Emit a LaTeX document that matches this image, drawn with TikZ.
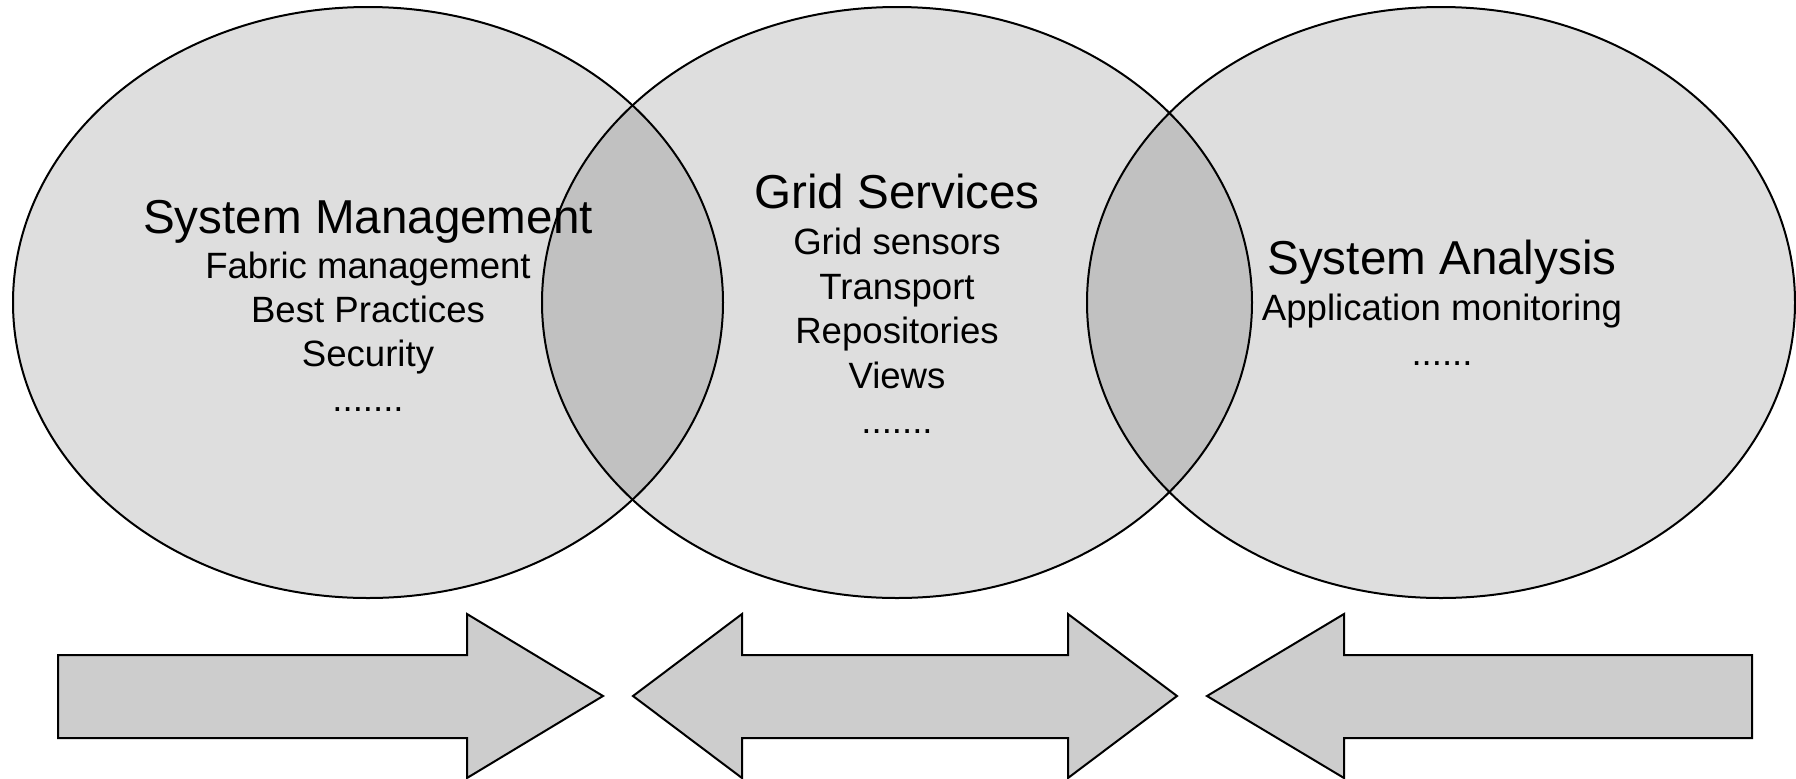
\documentclass[tikz,border=0pt]{standalone}
\usepackage{fontspec}
\setmainfont{Liberation Sans}
\usepackage{tikz}

\begin{document}
\begin{tikzpicture}[x=0.5pt,y=0.5pt,yscale=-1,xscale=1]
	\useasboundingbox (0,0) rectangle (1796,778);
	
	%Shape: Ellipse [id:system_management]
	\draw [line width=1pt, fill={rgb, 255:red, 0; green, 0; blue, 0 }, fill opacity=0.13 ] (368,302.5) ellipse [x radius=355, y radius=295.5];
	%Shape: Ellipse [id:grid_services]
	\draw [line width=1pt, fill={rgb, 255:red, 0; green, 0; blue, 0 }, fill opacity=0.13 ] (897,302.5) ellipse [x radius=355, y radius=295.5];
	%Shape: Ellipse [id:system_analysis]
	\draw [line width=1pt, fill={rgb, 255:red, 0; green, 0; blue, 0 }, fill opacity=0.13 ] (1441,302.5) ellipse [x radius=354, y radius=295.5];
	
	%Shape: Right Arrow [id:arrow_right]
	\draw [line width=1pt, fill={rgb, 255:red, 205; green, 205; blue, 205 } ] (58,655) -- (467,655) -- (467,614) -- (603,696) -- (467,778) -- (467,738) -- (58,738) -- cycle ;
	%Shape: Left-Right Arrow [id:arrow_both]
	\draw [line width=1pt, fill={rgb, 255:red, 205; green, 205; blue, 205 } ] (633,696) -- (742,614) -- (742,655) -- (1068,655) -- (1068,614) -- (1177,696) -- (1068,778) -- (1068,738) -- (742,738) -- (742,778) -- cycle ;
	%Shape: Left Arrow [id:arrow_left]
	\draw [line width=1pt, fill={rgb, 255:red, 205; green, 205; blue, 205 } ] (1207,696) -- (1344,614) -- (1344,655) -- (1752,655) -- (1752,738) -- (1344,738) -- (1344,778) -- cycle ;
	
	% Text Node
	\draw (368,233) node [anchor=base][inner sep=0.75pt] [font=\fontsize{23.8}{28}\selectfont] (smtitle) {System Management};
	% Text Node
	\draw (368,411) node [anchor=base][inner sep=0.75pt] [align=center, font=\fontsize{18.3}{22.1}\selectfont] (smitems) {Fabric management\\Best Practices\\Security\\.......};
	% Text Node
	\draw (897,208) node [anchor=base][inner sep=0.75pt] [font=\fontsize{23.8}{28}\selectfont] (gstitle) {Grid Services};
	% Text Node
	\draw (897,433) node [anchor=base][inner sep=0.75pt] [align=center, font=\fontsize{18.3}{22.3}\selectfont] (gsitems) {Grid sensors\\Transport\\Repositories\\Views\\.......};
	% Text Node
	\draw (1442,274) node [anchor=base][inner sep=0.75pt] [font=\fontsize{23.8}{28}\selectfont] (satitle) {System Analysis};
	% Text Node
	\draw (1442,365) node [anchor=base][inner sep=0.75pt] [align=center, font=\fontsize{18.3}{22.1}\selectfont] (saitems) {Application monitoring\\......};
	
\end{tikzpicture}
\end{document}
